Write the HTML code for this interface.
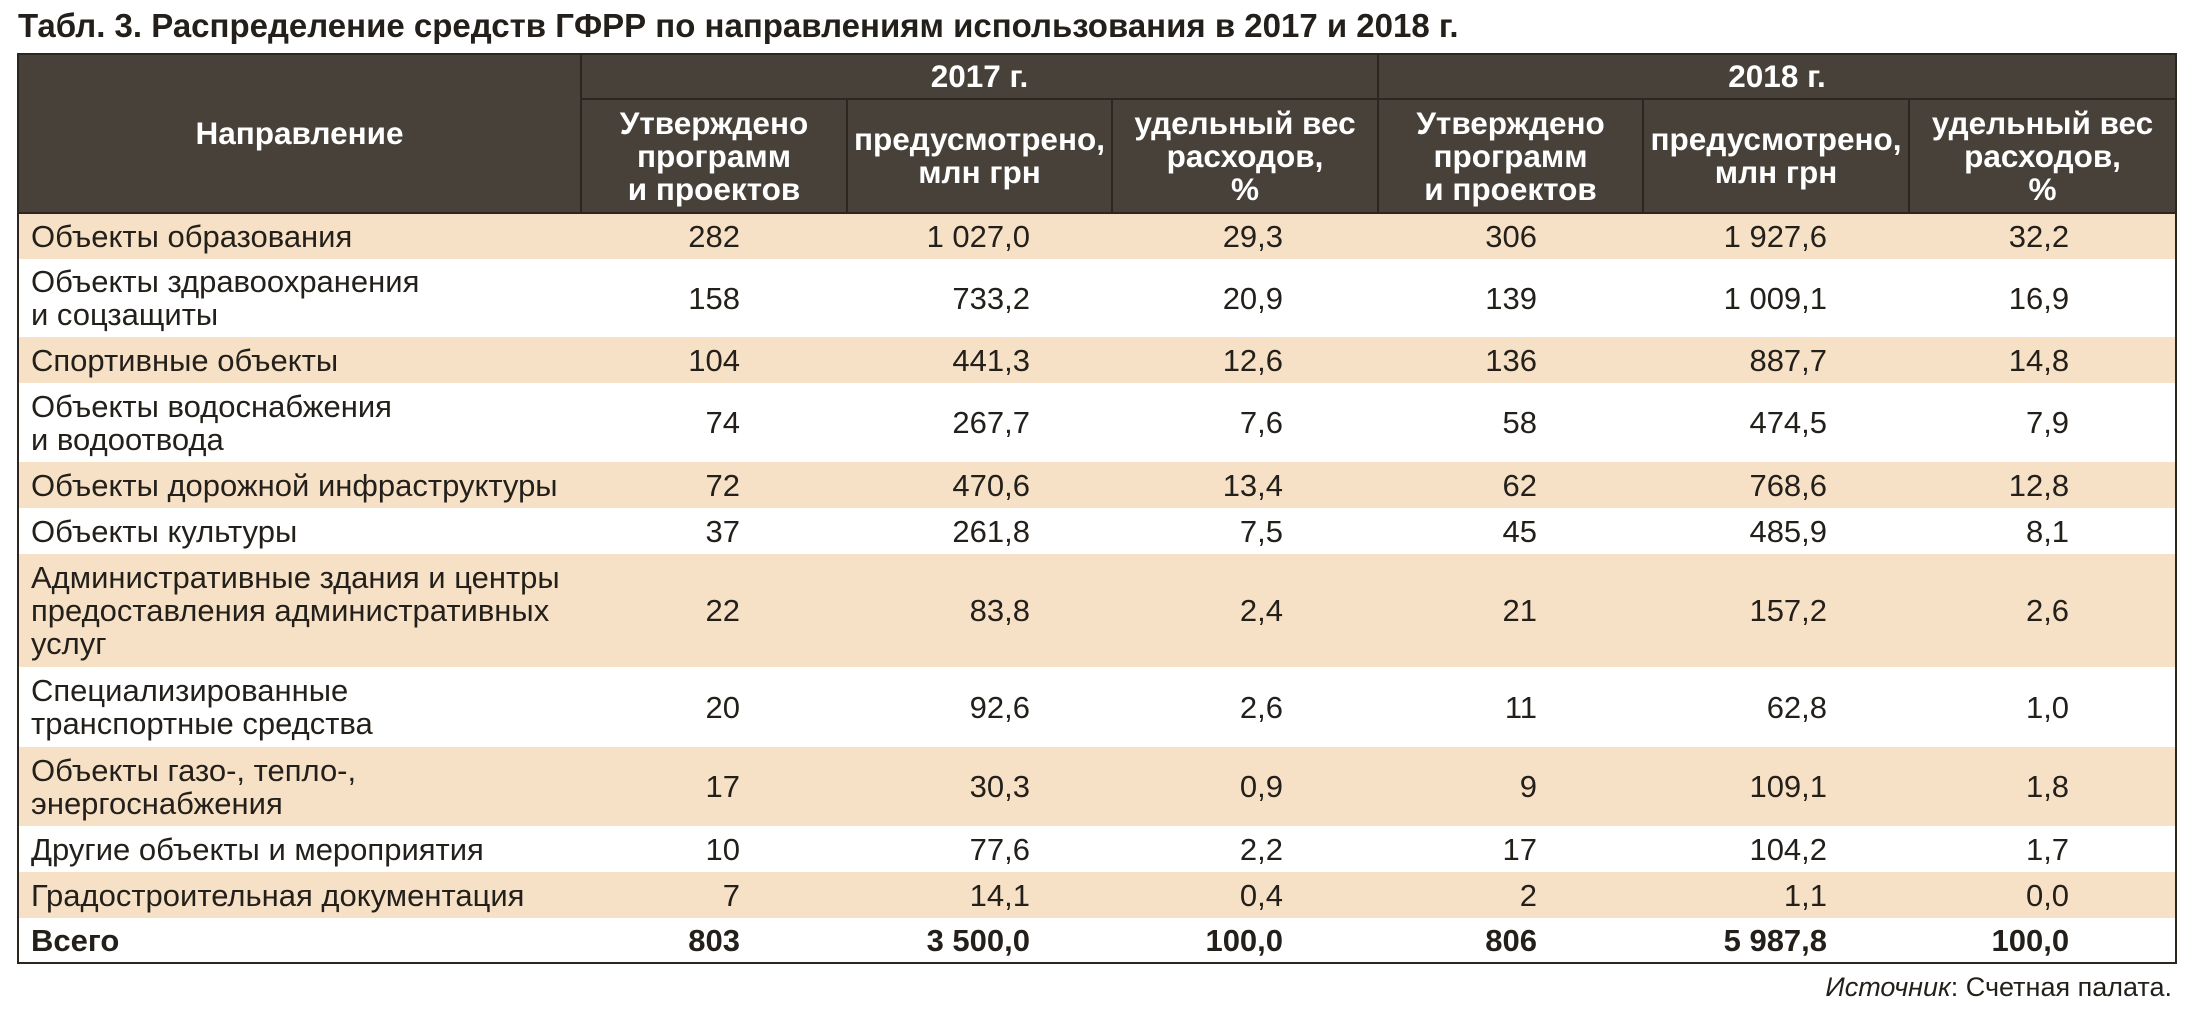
<!DOCTYPE html>
<html><head><meta charset="utf-8"><style>
body{margin:0;width:2186px;height:1012px;background:#fff;font-family:"Liberation Sans",sans-serif;color:#231f1a;position:relative;overflow:hidden}
#title{position:absolute;left:18px;top:7px;font-weight:bold;font-size:33px;white-space:nowrap}
table{position:absolute;left:17px;top:53px;width:2158px;border-collapse:collapse;table-layout:fixed;border:2.5px solid #2b2620}
th{background:#47413a;color:#fff;font-weight:bold;font-size:31.5px;line-height:33px;border:2px solid #2b2620;padding:0;text-align:center;white-space:nowrap}
td{font-size:31px;line-height:33px;padding:0;white-space:nowrap}
td.n{text-align:left;padding-left:12px}
td.v{text-align:right}
tr.b td{background:#f7e1c6}
tr.t td{font-weight:bold}
#src{position:absolute;right:14px;top:972px;font-size:27px}
</style></head><body>
<div id="title">Табл. 3. Распределение средств ГФРР по направлениям использования в 2017 и 2018 г.</div>
<table>
<colgroup><col style="width:563px"><col style="width:266px"><col style="width:265px"><col style="width:266px"><col style="width:265px"><col style="width:266px"><col style="width:267px"></colgroup>
<tr style="height:45px"><th rowspan="2">Направление</th><th colspan="3">2017 г.</th><th colspan="3">2018 г.</th></tr>
<tr style="height:114px"><th>Утверждено<br>программ<br>и проектов</th><th>предусмотрено,<br>млн грн</th><th>удельный вес<br>расходов,<br>%</th><th>Утверждено<br>программ<br>и проектов</th><th>предусмотрено,<br>млн грн</th><th>удельный вес<br>расходов,<br>%</th></tr>
<tbody id="tb"></tbody>
</table>
<div id="src"><i>Источник</i>: Счетная палата.</div>
<script>
const names=["Объекты образования","Объекты здравоохранения<br>и соцзащиты","Спортивные объекты","Объекты водоснабжения<br>и водоотвода","Объекты дорожной инфраструктуры","Объекты культуры","Административные здания и центры<br>предоставления административных<br>услуг","Специализированные<br>транспортные средства","Объекты газо-, тепло-,<br>энергоснабжения","Другие объекты и мероприятия","Градостроительная документация","Всего"];
const progs2017=["282","158","104","74","72","37","22","20","17","10","7","803"];
const funds2017=["1 027,0","733,2","441,3","267,7","470,6","261,8","83,8","92,6","30,3","77,6","14,1","3 500,0"];
const share2017=["29,3","20,9","12,6","7,6","13,4","7,5","2,4","2,6","0,9","2,2","0,4","100,0"];
const progs2018=["306","139","136","58","62","45","21","11","9","17","2","806"];
const funds2018=["1 927,6","1 009,1","887,7","474,5","768,6","485,9","157,2","62,8","109,1","104,2","1,1","5 987,8"];
const share2018=["32,2","16,9","14,8","7,9","12,8","8,1","2,6","1,0","1,8","1,7","0,0","100,0"];
const heights=[46,78,46,79,46,46,113,80,79,46,46,45];
const pads=[107,82,95,106,82,106];
const tb=document.getElementById('tb');
names.forEach((n,i)=>{
 const tr=document.createElement('tr');
 
 
 tr.style.height=heights[i]+'px';
 if(i%2===0&&i<11)tr.className='b';
 if(i===11)tr.className='t';
 const c=document.createElement('td');c.className='n';c.innerHTML=i===11?'<b>Всего</b>':n;
 
 
 tr.appendChild(c);
 [progs2017,funds2017,share2017,progs2018,funds2018,share2018].forEach((a,j)=>{
  const d=document.createElement('td');d.className='v';d.textContent=a[i];d.style.paddingRight=pads[j]+'px';
  
  
  tr.appendChild(d);
 });
 tb.appendChild(tr);
});
</script>
</body></html>
